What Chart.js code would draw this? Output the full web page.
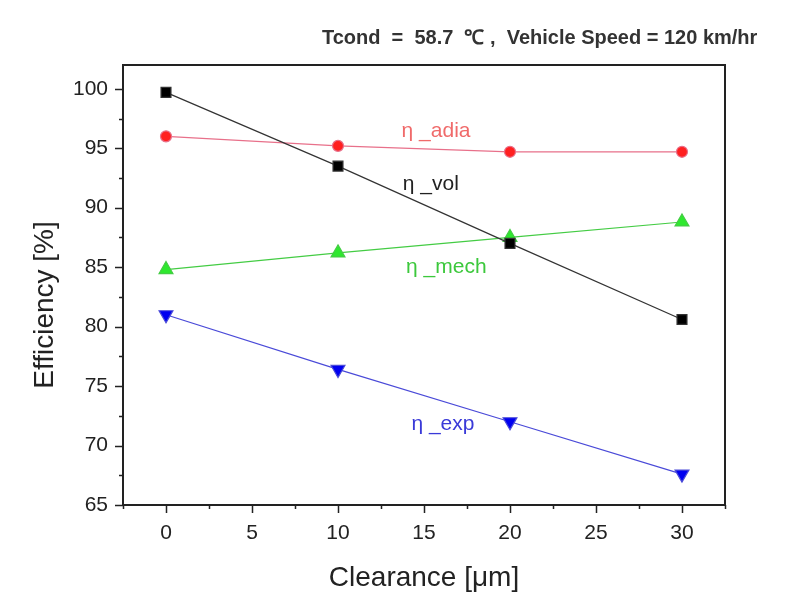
<!DOCTYPE html>
<html>
<head>
<meta charset="utf-8">
<script src="https://cdn.jsdelivr.net/npm/chart.js@4.4.0/dist/chart.umd.min.js"></script>
<style>
html,body{margin:0;padding:0;background:#fff;}
#wrap{width:796px;height:608px;}
</style>
</head>
<body>
<div id="wrap"><canvas id="c" width="796" height="608"></canvas></div>
<script>
const clearance = [0, 10, 20, 30];
const etaVol  = [99.7, 93.5, 87.0, 80.6];
const etaAdia = [96.0, 95.2, 94.7, 94.7];
const etaMech = [84.8, 86.2, 87.5, 88.8];
const etaExp  = [81.0, 76.4, 72.0, 67.6];
const seriesNames = ['η _vol', 'η _adia', 'η _mech', 'η _exp'];
const titleText = 'Tcond  =  58.7  ℃ ,  Vehicle Speed = 120 km/hr';
const xTitle = 'Clearance [μm]';
const yTitle = 'Efficiency [%]';
// label anchor positions in data units [x, y]
const labelPos = [[15.4, 92.0], [15.7, 96.45], [16.3, 85.0], [16.1, 71.8]];
const labelColors = ['#222222', '#f06a6a', '#3cc83c', '#3a3ad8'];

function pts(ys){ return clearance.map((x,i)=>({x:x, y:ys[i]})); }

const decor = {
  id: 'decor',
  afterDraw(chart){
    const {ctx, chartArea:a, scales:{x, y}} = chart;
    ctx.save();
    // frame
    ctx.strokeStyle = '#222';
    ctx.lineWidth = 2;
    ctx.strokeRect(a.left, a.top, a.right - a.left, a.bottom - a.top);
    // ticks
    ctx.lineWidth = 1.5;
    ctx.beginPath();
    for (let v = -2.5; v <= 32.5 + 1e-9; v += 2.5) {
      const px = Math.round(x.getPixelForValue(v)) + 0.5;
      const major = Math.abs(v % 5) < 1e-9;
      ctx.moveTo(px, a.bottom);
      ctx.lineTo(px, a.bottom + (major ? 8 : 4));
    }
    for (let v = 65; v <= 100 + 1e-9; v += 2.5) {
      const py = Math.round(y.getPixelForValue(v)) + 0.5;
      const major = Math.abs(v % 5) < 1e-9;
      ctx.moveTo(a.left, py);
      ctx.lineTo(a.left - (major ? 8 : 4), py);
    }
    ctx.stroke();
    // series labels
    ctx.textAlign = 'center';
    ctx.textBaseline = 'middle';
    ctx.font = '21px "Liberation Sans", Arial, sans-serif';
    seriesNames.forEach((n, i) => {
      ctx.fillStyle = labelColors[i];
      ctx.fillText(n, x.getPixelForValue(labelPos[i][0]), y.getPixelForValue(labelPos[i][1]));
    });
    // y title
    ctx.save();
    ctx.translate(45, 305);
    ctx.rotate(-Math.PI / 2);
    ctx.fillStyle = '#222';
    ctx.font = '28px "Liberation Sans", Arial, sans-serif';
    ctx.fillText(yTitle, 0, 0);
    ctx.restore();
    // top title
    ctx.textAlign = 'left';
    ctx.fillStyle = '#333';
    ctx.font = 'bold 20px "Liberation Sans", Arial, sans-serif';
    ctx.fillText(titleText, 322, 38);
    ctx.restore();
  }
};

new Chart(document.getElementById('c'), {
  type: 'line',
  data: {
    datasets: [
      { label: seriesNames[0], data: pts(etaVol), borderColor: '#333333', backgroundColor: '#000000',
        pointStyle: 'rect', pointRadius: 7, pointHoverRadius: 7, borderWidth: 1.2 },
      { label: seriesNames[1], data: pts(etaAdia), borderColor: '#e8708a', backgroundColor: '#ff2020',
        pointStyle: 'circle', pointRadius: 5.5, pointHoverRadius: 5.5, borderWidth: 1.2 },
      { label: seriesNames[2], data: pts(etaMech), borderColor: '#44cc44', backgroundColor: '#2ee82e',
        pointStyle: 'triangle', pointRadius: 8, pointHoverRadius: 8, borderWidth: 1.2 },
      { label: seriesNames[3], data: pts(etaExp), borderColor: '#4a4ad8', backgroundColor: '#0000f0',
        pointStyle: 'triangle', rotation: 180, pointRotation: 180, pointRadius: 8, pointHoverRadius: 8, borderWidth: 1.2 }
    ]
  },
  options: {
    responsive: false,
    animation: false,
    events: [],
    layout: { padding: { left: 0, top: 65, right: 71, bottom: 0 } },
    elements: { point: { borderWidth: 0 }, line: { tension: 0 } },
    plugins: { legend: { display: false }, tooltip: { enabled: false }, title: { display: false } },
    scales: {
      x: {
        type: 'linear', min: -2.5, max: 32.5,
        grid: { display: false, drawTicks: false },
        border: { display: false },
        ticks: { stepSize: 2.5, includeBounds: false, autoSkip: false, maxRotation: 0, padding: 16,
          color: '#222', font: { size: 21, family: '"Liberation Sans", Arial, sans-serif' },
          callback: v => (Math.abs(v % 5) < 1e-9 ? String(v) : '') },
        title: { display: true, text: xTitle, color: '#222',
          font: { size: 28, family: '"Liberation Sans", Arial, sans-serif' }, padding: { top: 0, bottom: 13 } },
        afterFit: s => { s.height = 103; }
      },
      y: {
        type: 'linear', min: 65, max: 102,
        grid: { display: false, drawTicks: false },
        border: { display: false },
        ticks: { stepSize: 2.5, includeBounds: false, autoSkip: false, padding: 15,
          color: '#222', font: { size: 21, family: '"Liberation Sans", Arial, sans-serif' },
          callback: v => (Math.abs(v % 5) < 1e-9 ? String(v) : '') },
        afterFit: s => { s.width = 123; }
      }
    }
  },
  plugins: [decor]
});
</script>
</body>
</html>
